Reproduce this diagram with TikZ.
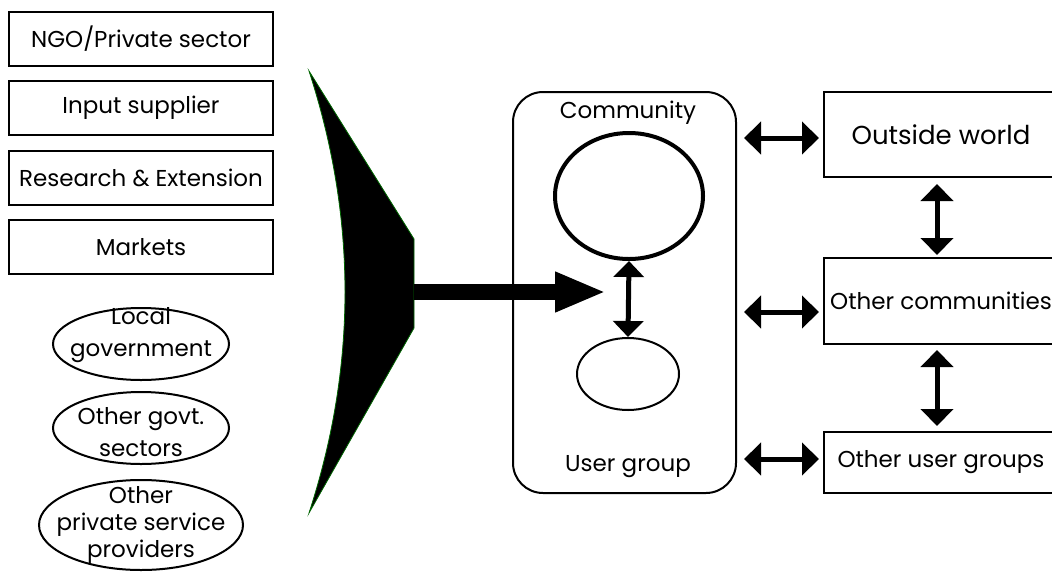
\documentclass[tikz,border=0pt]{standalone}
\usepackage{fontspec}
\setmainfont{Poppins}
\usetikzlibrary{shapes.geometric,arrows.meta}
\tikzset{
  leftbox/.style={draw, line width=2pt, minimum width=264pt, minimum height=54pt, inner sep=0pt},
  oval/.style={draw, ellipse, line width=2pt, inner sep=0pt},
  ovaltext/.style={align=center, inner sep=0pt},
  rightbox/.style={draw, line width=2pt, minimum width=234pt, inner sep=0pt},
  twoway/.style={line width=5pt, {Triangle[length=17pt,width=32pt]}-{Triangle[length=17pt,width=32pt]}},
}
\begin{document}
\begin{tikzpicture}[x=1pt, y=-1pt, font=\fontsize{23}{26}\selectfont]
\useasboundingbox (0,0) rectangle (1052,571);
\node (ngo) [leftbox] at (141,39) {NGO/Private sector};
\node (input) [leftbox] at (141,108) {Input supplier};
\node (research) [leftbox] at (141,178) {Research \& Extension};
\node (markets) [leftbox] at (141,247) {Markets};
\node (localgov) [oval, minimum width=176pt, minimum height=72pt] at (141,344) {};
\node (localgovtext) [ovaltext, font=\fontsize{23}{32}\selectfont] at (141,335) {Local\\government};
\node (othergov) [oval, minimum width=176pt, minimum height=72pt] at (141,428) {};
\node (othergovtext) [ovaltext, font=\fontsize{23}{32}\selectfont] at (141,432) {Other govt.\\sectors};
\node (private) [oval, minimum width=204pt, minimum height=90pt] at (141,525) {};
\node (privatetext) [ovaltext, font=\fontsize{23}{27}\selectfont] at (141,525) {Other\\private service\\providers};
\fill [black, draw=green!40!black, line width=0.8pt] (309,71) .. controls (357,218) and (357,366) .. (309,513) -- (414,328) -- (414,239) -- cycle;
\coordinate (funnel) at (414,292);
\coordinate (entry) at (606,292);
\draw [line width=16pt, -{Triangle[length=51pt,width=37pt]}] (funnel) -- (entry);
\node (comm) [draw, line width=2pt, rounded corners=30pt, minimum width=223pt, minimum height=401pt] at (624.5,292.5) {};
\node (commlabel) at (628,113) {Community};
\node (grouplabel) at (628,467) {User group};
\node (big) [draw, ellipse, line width=4pt, minimum width=148pt, minimum height=126pt] at (629,196) {};
\node (small) [draw, ellipse, line width=2pt, minimum width=102pt, minimum height=72pt] at (628,374) {};
\draw [line width=5pt, {Triangle[length=16pt,width=30pt]}-{Triangle[length=16pt,width=30pt]}] (big.south) -- (small.north);
\node (world) [rightbox, minimum height=85pt, font=\fontsize{26}{28}\selectfont] at (941,134.5) {Outside world};
\node (others) [rightbox, minimum height=86pt] at (941,301) {Other communities};
\node (users) [rightbox, minimum height=61pt] at (941,462.5) {Other user groups};
\draw [twoway] ([xshift=7pt,yshift=-3.5pt]comm.east |- world.west) -- ([xshift=-4pt,yshift=-3.5pt]world.west);
\draw [twoway] ([xshift=7pt,yshift=-11pt]comm.east |- others.west) -- ([xshift=-4pt,yshift=-11pt]others.west);
\draw [twoway] ([xshift=7pt,yshift=3.5pt]comm.east |- users.west) -- ([xshift=-4pt,yshift=3.5pt]users.west);
\draw [twoway] ([xshift=-4pt,yshift=-6pt]world.south) -- ([xshift=-4pt,yshift=2pt]others.north);
\draw [twoway] ([xshift=-4pt,yshift=-5pt]others.south) -- ([xshift=-4pt,yshift=5pt]users.north);
\end{tikzpicture}
\end{document}
